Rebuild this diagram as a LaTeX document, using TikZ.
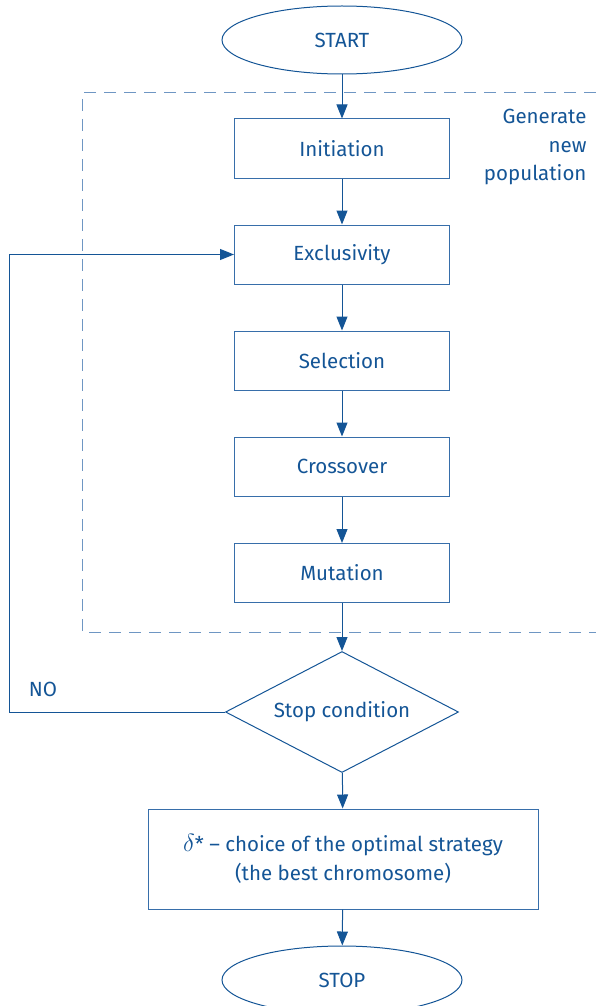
\documentclass[tikz,border=0pt]{standalone}
\usepackage{fontspec}
\setmainfont{Fira Sans}
\usetikzlibrary{shapes.geometric,arrows.meta}
\definecolor{flowblue}{RGB}{20,85,150}
\definecolor{lineblue}{RGB}{55,110,170}
\definecolor{dashblue}{RGB}{110,150,195}
\tikzset{
    stepbox/.style={draw=lineblue, line width=1pt, minimum width=215pt, minimum height=59pt, text=flowblue},
    terminal/.style={draw=flowblue, ellipse, line width=1pt, minimum width=240pt, minimum height=68pt, text=flowblue},
    link/.style={draw=flowblue, line width=1pt, -{Triangle[length=14pt,width=11pt]}}
}
\begin{document}
\begin{tikzpicture}[x=1pt, y=-1pt, font=\fontsize{20.5}{24}\selectfont]
%\draw [help lines] (0,0) grid (596,1006);
    \useasboundingbox (0,0) rectangle (596,1006);
    \clip (0,0) rectangle (596,1006);
    \draw [dashblue, line width=1pt, dash pattern=on 12pt off 8pt]
        (596,93) -- (82,93) -- (82,632) -- (596,632);
    \node [terminal] (start) at (342,40) {START};
    \node [stepbox] (init) at (342,148.5) {Initiation};
    \node [stepbox] (excl) at (342,254.5) {Exclusivity};
    \node [stepbox] (sel) at (342,360.5) {Selection};
    \node [stepbox] (cross) at (342,466.5) {Crossover};
    \node [stepbox] (mut) at (342,573) {Mutation};
    \node [draw=flowblue, diamond, aspect=1.93, line width=1pt, minimum width=233pt, minimum height=121pt,
        inner sep=0pt, text=flowblue] (cond) at (342,712) {Stop condition};
    \node [stepbox, minimum width=390pt, minimum height=100pt, align=center,
        font=\fontsize{20.5}{28.5}\selectfont] (best) at (343,859)
        {{\fontsize{23}{24}\selectfont$\delta$}* -- choice of the optimal strategy\\(the best chromosome)};
    \node [terminal] (stop) at (342,980) {STOP};
    \node [text=flowblue, align=right, anchor=north east, font=\fontsize{20.5}{28.5}\selectfont]
        (gen) at (590,106) {Generate\\new\\population};
    \node [text=flowblue] (no) at (43,689) {NO};
    \draw [link] (start) -- (init);
    \draw [link] (init) -- (excl);
    \draw [link] (excl) -- (sel);
    \draw [link] (sel) -- (cross);
    \draw [link] (cross) -- (mut);
    \draw [link] (mut) -- (cond);
    \draw [link] (cond) -- (best);
    \draw [link] (best) -- (stop);
    \draw [link] (cond.west) -| (9,254.5) -- (excl.west);
\end{tikzpicture}
\end{document}
